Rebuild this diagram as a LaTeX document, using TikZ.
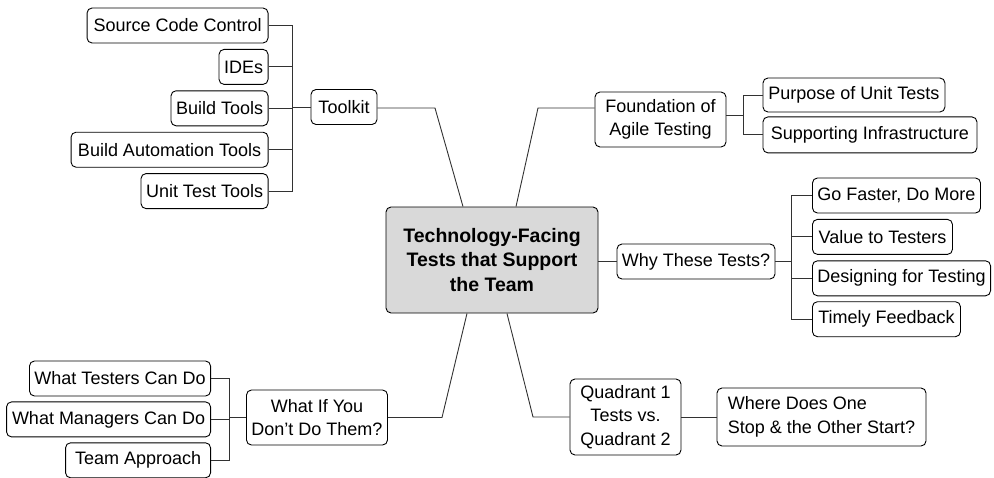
\documentclass[tikz,border=0pt]{standalone}
\usepackage{fontspec}
\setmainfont{Liberation Sans}
\usetikzlibrary{positioning}
\definecolor{hubgray}{RGB}{217,217,217}
\definecolor{linkgray}{RGB}{50,50,50}
\newcommand{\mmfont}{\fontsize{18}{23.5}\selectfont}
\newcommand{\hubfont}{\fontsize{19.5}{24.5}\selectfont\bfseries}

\begin{document}
\begin{tikzpicture}[
    x=1pt, y=-1pt,
    box/.style={rectangle, draw=black, line width=0.9pt, rounded corners=5pt, fill=white, minimum height=35pt, inner xsep=5pt, inner ysep=3pt, font=\mmfont},
    hub/.style={box, fill=hubgray, minimum width=212pt, minimum height=106pt, align=center, font=\hubfont},
    link/.style={draw=linkgray, line width=0.9pt}
]
\useasboundingbox (0,0) rectangle (994,477);

\node[hub] (hub) at (492,260) {Technology-Facing\\Tests that Support\\the Team};

% toolkit branch
\node[box, minimum width=66pt] (toolkit) at (344,107) {Toolkit};
\node[box, anchor=east, minimum width=181pt] (scc) at (268.5,25.5) {Source Code Control};
\node[box, below left=5.5pt and 0pt of scc.south east, minimum width=47pt] (ides) {IDEs};
\node[box, below left=5.5pt and 0pt of ides.south east, minimum width=97pt] (build) {Build Tools};
\node[box, below left=5.5pt and 0pt of build.south east, minimum width=197pt] (autom) {Build Automation Tools};
\node[box, below left=5.5pt and 0pt of autom.south east, minimum width=126pt] (unit) {Unit Test Tools};

\coordinate (tkbus) at (292,107);
\coordinate (tkknee) at (435,108);
\draw[link] (toolkit.west) -- (tkbus);
\foreach \n in {scc,ides,build,autom,unit}
    \draw[link] (\n.east) -| (tkbus);
\draw[link] (toolkit.east |- tkknee) -- (tkknee) -- ([xshift=-29pt]hub.north);

% foundation branch
\node[box, minimum width=131pt, minimum height=55pt, align=center] (found) at (660.5,119.5) {Foundation of\\Agile Testing};
\node[box, anchor=west, minimum width=182pt, minimum height=34pt] (purpose) at (762.5,95) {Purpose of Unit Tests};
\node[box, below right=4pt and 0pt of purpose.south west, minimum width=214pt, minimum height=36pt] (infra) {Supporting Infrastructure};

\coordinate (fdbus) at (743,115);
\coordinate (fdknee) at (538,108);
\draw[link] (found.east |- fdbus) -- (fdbus);
\draw[link] (purpose.west) -| (fdbus);
\draw[link] (infra.west) -| (fdbus);
\draw[link] ([xshift=24pt]hub.north) -- (fdknee) -- (fdknee -| found.west);

% why branch
\node[box, minimum width=152pt] (why) at (696,261.5) {Why These Tests?};
\node[box, anchor=west, minimum width=167pt] (faster) at (812,195.5) {Go Faster, Do More};
\node[box, below right=5.5pt and 0pt of faster.south west, minimum width=140pt] (value) {Value to Testers};
\node[box, below right=5.5pt and 0pt of value.south west, minimum width=177pt] (design) {Designing for Testing};
\node[box, below right=5pt and 0pt of design.south west, minimum width=148pt] (timely) {Timely Feedback};

\coordinate (whybus) at (791,261.5);
\draw[link] (hub.east |- why) -- (why.west);
\draw[link] (why.east) -- (whybus);
\foreach \n in {faster,value,design,timely}
    \draw[link] (\n.west) -| (whybus);

% what if branch
\node[box, minimum width=140pt, minimum height=55pt, align=center] (whatif) at (317,417.5) {What If You\\Don't Do Them?};
\node[box, anchor=east, minimum width=179pt] (testers) at (211,378.5) {What Testers Can Do};
\node[box, below left=5pt and 0pt of testers.south east, minimum width=204pt] (managers) {What Managers Can Do};
\node[box, below left=5pt and 0pt of managers.south east, minimum width=145pt] (team) {Team Approach};

\coordinate (wibus) at (229,417.5);
\coordinate (wiknee) at (442,417.5);
\draw[link] (whatif.west) -- (wibus);
\foreach \n in {testers,managers,team}
    \draw[link] (\n.east) -| (wibus);
\draw[link] (whatif.east) -- (wiknee) -- ([xshift=-25pt]hub.south);

% quadrant branch
\node[box, minimum width=111pt, minimum height=76pt, align=center] (quad) at (625.5,417) {Quadrant 1\\Tests vs.\\Quadrant 2};
\node[box, minimum width=209pt, minimum height=58pt, align=left, inner xsep=10pt] (where) at (821.5,417) {Where Does One\\Stop \& the Other Start?};

\coordinate (qknee) at (533,417);
\draw[link] ([xshift=15pt]hub.south) -- (qknee) -- (quad.west);
\draw[link] (quad.east) -- (where.west);

\end{tikzpicture}
\end{document}
